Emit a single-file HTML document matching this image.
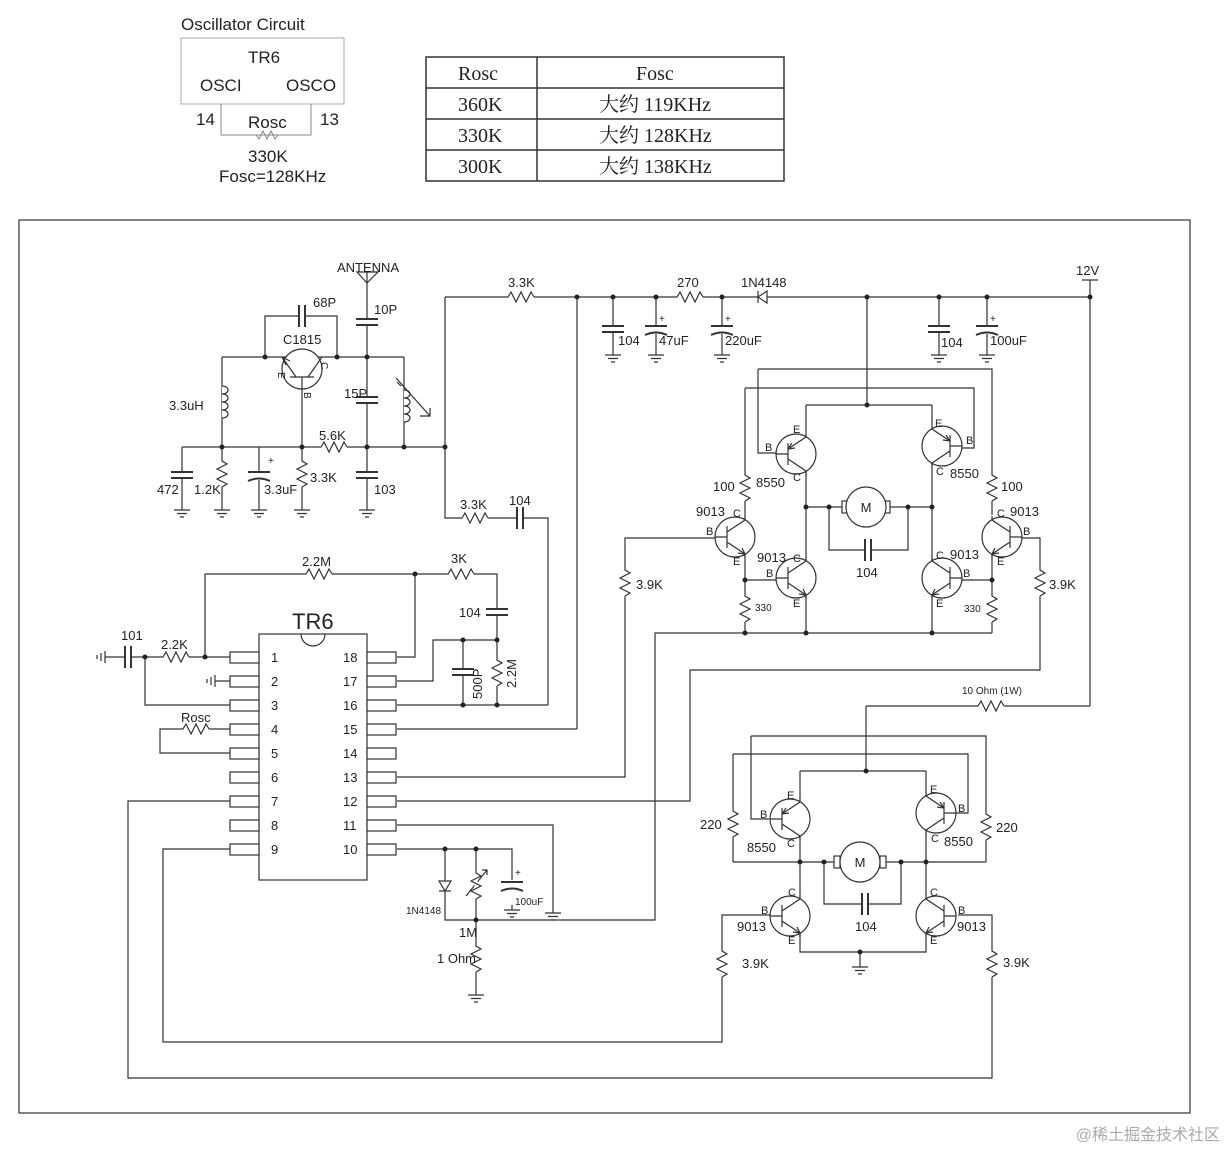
<!DOCTYPE html>
<html><head><meta charset="utf-8"><style>
html,body{margin:0;padding:0;background:#fff;}
svg{display:block;}
text{font-family:"Liberation Sans","Noto Sans CJK SC",sans-serif;fill:#222;}
.s{font-family:"Liberation Serif","Noto Serif CJK SC",serif;}
</style></head><body>
<svg width="1226" height="1151" viewBox="0 0 1226 1151" xmlns="http://www.w3.org/2000/svg">
<defs>
<g id="rv"><rect x="-1.5" y="-14" width="3" height="28" fill="#fff"/><path d="M0,-14 L0,-12 L5,-9 L-5,-4 L5,1 L-5,6 L5,11 L0,14" fill="none" stroke="#333" stroke-width="1.2"/></g>
<g id="rh"><rect x="-14" y="-1.5" width="28" height="3" fill="#fff"/><path d="M-14,0 L-12,0 L-9,-5 L-4,5 L1,-5 L6,5 L11,-5 L14,0" fill="none" stroke="#333" stroke-width="1.2"/></g>
<g id="cv"><rect x="-11" y="-3" width="22" height="6" fill="#fff"/><path d="M-11,-3 H11 M-11,3 H11" stroke="#333" stroke-width="2"/></g>
<g id="ce"><rect x="-11" y="-4" width="22" height="9" fill="#fff"/><path d="M-11,-3 H11" stroke="#333" stroke-width="2"/><path d="M-11,6 Q0,1 11,6" fill="none" stroke="#333" stroke-width="2"/></g>
<g id="ch"><rect x="-3" y="-11" width="6" height="22" fill="#fff"/><path d="M-3,-11 V11 M3,-11 V11" stroke="#333" stroke-width="2"/></g>
<g id="gnd"><path d="M0,0 V5 M-8,5 H8 M-5,8.5 H5 M-2,12 H2" stroke="#333" stroke-width="1.2" fill="none"/></g>
<g id="npn"><circle r="20" fill="#fff" stroke="#333" stroke-width="1.2"/><path d="M-20,0 H-8 M-8,-11 V11 M-8,-5 L10,-17 V-21 M-8,5 L10,17 V21" stroke="#333" stroke-width="1.2" fill="none"/><path d="M10,17 L3,16 M10,17 L7,11" stroke="#333" stroke-width="1.2"/></g>
<g id="pnp"><circle r="20" fill="#fff" stroke="#333" stroke-width="1.2"/><path d="M-20,0 H-8 M-8,-11 V11 M-8,-5 L10,-17 V-21 M-8,5 L10,17 V21" stroke="#333" stroke-width="1.2" fill="none"/><path d="M-8,5 L-1,6 M-8,5 L-4,11" stroke="#333" stroke-width="1.2"/></g>
</defs>

<!-- Top-left oscillator box -->
<text x="181" y="30" font-size="17">Oscillator Circuit</text>
<rect x="181" y="38" width="163" height="66" fill="none" stroke="#aaa"/>
<text x="248" y="63" font-size="17">TR6</text>
<text x="200" y="91" font-size="17">OSCI</text>
<text x="286" y="91" font-size="17">OSCO</text>
<path d="M221,104 V135 H311 V104" fill="none" stroke="#888"/>
<path d="M256,135 L259,139 L263,131 L267,139 L271,131 L275,139 L278,135" fill="none" stroke="#888"/>
<text x="196" y="125" font-size="17">14</text>
<text x="320" y="125" font-size="17">13</text>
<text x="248" y="128" font-size="17">Rosc</text>
<text x="248" y="162" font-size="17">330K</text>
<text x="219" y="182" font-size="17">Fosc=128KHz</text>

<!-- Table -->
<rect x="426" y="57" width="358" height="124" fill="none" stroke="#333" stroke-width="1.5"/>
<path d="M537,57 V181 M426,88 H784 M426,119 H784 M426,150 H784" stroke="#333" stroke-width="1.5"/>
<g class="s" font-size="20">
<text x="458" y="80" class="s">Rosc</text><text x="636" y="80" class="s">Fosc</text>
<text x="458" y="111" class="s">360K</text><text x="599" y="111" class="s">大约 119KHz</text>
<text x="458" y="142" class="s">330K</text><text x="599" y="142" class="s">大约 128KHz</text>
<text x="458" y="173" class="s">300K</text><text x="599" y="173" class="s">大约 138KHz</text>
</g>

<!-- Frame -->
<rect x="19" y="220" width="1171" height="893" fill="none" stroke="#333" stroke-width="1.2"/>

<g stroke="#333" stroke-width="1.2" fill="none">
<path d="M367,283 V357 M222,357 H404 M265,357 V316 H337 V357 M302,389 V447 M222,357 V447 M182,447 H445 M182,447 V505 M222,447 V505 M259,447 V505 M302,447 V505 M367,357 V505 M404,357 V447"/>
<path d="M445,297 V518 H548 V705 M445,297 H1090 M577,297 V729"/>
<path d="M357,272 H378 L367,283 Z M367,272 V283"/>
<path d="M222,386 c8,0 8,8 0,8 c8,0 8,8 0,8 c8,0 8,8 0,8 c8,0 8,8 0,8" fill="#fff"/>
<path d="M404,390 c8,0 8,8 0,8 c8,0 8,8 0,8 c8,0 8,8 0,8 c8,0 8,8 0,8" fill="#fff"/>
<path d="M396,378 L430,416 M420,416 L430,416 L430,408 M401,386 L397,382"/>
<path d="M613,297 V350 M656,297 V350 M722,297 V350 M939,297 V350 M987,297 V350 M867,297 V405 M1090,280 V706"/>
<path d="M1082,280 H1098"/>
<path d="M758,291 V303 M767,291 V303 L758,297 Z" fill="#fff"/>
<rect x="259" y="634" width="108" height="246" fill="#fff"/>
<path d="M301,634 A12,12 0 0 0 325,634"/>
</g>
<g stroke="#333" stroke-width="1.2" fill="#fff">
<rect x="230" y="652" width="29" height="11"/><rect x="230" y="676" width="29" height="11"/><rect x="230" y="700" width="29" height="11"/>
<rect x="230" y="724" width="29" height="11"/><rect x="230" y="748" width="29" height="11"/><rect x="230" y="772" width="29" height="11"/>
<rect x="230" y="796" width="29" height="11"/><rect x="230" y="820" width="29" height="11"/><rect x="230" y="844" width="29" height="11"/>
<rect x="367" y="652" width="29" height="11"/><rect x="367" y="676" width="29" height="11"/><rect x="367" y="700" width="29" height="11"/>
<rect x="367" y="724" width="29" height="11"/><rect x="367" y="748" width="29" height="11"/><rect x="367" y="772" width="29" height="11"/>
<rect x="367" y="796" width="29" height="11"/><rect x="367" y="820" width="29" height="11"/><rect x="367" y="844" width="29" height="11"/>
</g>
<g font-size="13">
<text x="271" y="662">1</text><text x="271" y="686">2</text><text x="271" y="710">3</text><text x="271" y="734">4</text><text x="271" y="758">5</text><text x="271" y="782">6</text><text x="271" y="806">7</text><text x="271" y="830">8</text><text x="271" y="854">9</text>
<text x="343" y="662">18</text><text x="343" y="686">17</text><text x="343" y="710">16</text><text x="343" y="734">15</text><text x="343" y="758">14</text><text x="343" y="782">13</text><text x="343" y="806">12</text><text x="343" y="830">11</text><text x="343" y="854">10</text>
</g>
<text x="292" y="629" font-size="22">TR6</text>

<g stroke="#333" stroke-width="1.2" fill="none">
<path d="M105,657 H230 M205,657 V574 H497 V640 M415,574 V657 H397 M145,657 V705 H230 M215,681 H230"/>
<path d="M230,729 H160 V753 H230"/>
<path d="M397,681 H433 V640 H497 M463,640 V705 M497,640 V705 M397,705 H548 M397,729 H577"/>
<path d="M397,777 H625 V538 H717 M397,801 H690 V670 H1040 V538 H1020"/>
<path d="M397,825 H553 V908 M397,849 H512 V880 M445,849 V920 H655 V633 H992 M476,849 V990"/>
<path d="M230,801 H128 V1078 H992 V915 H958 M230,849 H163 V1042 H722 V915 H771"/>
<path d="M439,881 H451 L445,891 Z M439,891 H451" fill="#fff"/>
<path d="M466,896 L487,870 M482,870 H487 V875"/>
<path d="M105,651 V663 M101,653 V661 M97,655 V659"/>
<path d="M215,675 V687 M211,677 V685 M207,679 V683"/>

<path d="M806,405 H932 M806,405 V433 M932,405 V425"/>
<path d="M758,369 H992 V515 M758,369 V453 H776 M745,388 H974 V448 H962 M745,388 V517"/>
<path d="M806,472 V560 M932,464 V560 M806,507 H932 M829,507 V550 H908 V507"/>
<path d="M745,555 V633 M745,580 H777 M806,596 V633 M932,596 V633 M992,555 V633 M992,580 H957"/>
<path d="M866,706 V771 M800,771 H926 M800,771 V799 M926,771 V793"/>
<path d="M751,736 H986 V862 M751,736 V819 H769 M733,754 H968 V813 H956 M733,754 V862"/>
<path d="M800,838 V896 M926,832 V896 M733,862 H986 M824,862 V904 H901 V862"/>
<path d="M800,934 V952 H926 V934 M860,952 V962"/>
<path d="M866,706 H1090"/>
</g>

<use href="#cv" x="367" y="322"/>
<use href="#cv" x="367" y="400"/>
<use href="#cv" x="367" y="475"/>
<use href="#cv" x="182" y="475"/>
<use href="#ce" x="259" y="475"/>
<use href="#ch" x="302" y="316"/>
<use href="#rv" x="222" y="473"/>
<use href="#rv" x="302" y="473"/>
<use href="#rh" x="333" y="447"/>
<use href="#gnd" x="182" y="505"/><use href="#gnd" x="222" y="505"/><use href="#gnd" x="259" y="505"/><use href="#gnd" x="302" y="505"/><use href="#gnd" x="367" y="505"/>
<g transform="translate(302,369)"><circle r="20" fill="#fff" stroke="#333" stroke-width="1.2"/><path d="M-12,8 H12 M0,8 V20 M-6,8 L-20,-12 M6,8 L20,-12 M-20,-12 L-16,-4 M-20,-12 L-12,-8" stroke="#333" stroke-width="1.2" fill="none"/></g>

<use href="#rh" x="520" y="297"/>
<use href="#rh" x="689" y="297"/>
<use href="#cv" x="613" y="329"/><use href="#ce" x="656" y="329"/><use href="#ce" x="722" y="329"/>
<use href="#cv" x="939" y="329"/><use href="#ce" x="987" y="329"/>
<use href="#gnd" x="613" y="350"/><use href="#gnd" x="656" y="350"/><use href="#gnd" x="722" y="350"/><use href="#gnd" x="939" y="350"/><use href="#gnd" x="987" y="350"/>
<use href="#rh" x="474" y="518"/>
<use href="#ch" x="520" y="518"/>

<use href="#ch" x="128" y="657"/>
<use href="#rh" x="175" y="657"/>
<use href="#rh" x="318" y="574"/>
<use href="#rh" x="460" y="574"/>
<use href="#cv" x="497" y="612"/>
<use href="#cv" x="463" y="672"/>
<use href="#rv" x="497" y="672"/>
<use href="#rh" x="195" y="729"/>
<use href="#rv" x="625" y="582"/>
<use href="#rv" x="1040" y="582"/>
<use href="#rv" x="476" y="885"/>
<use href="#ce" x="512" y="885"/>
<use href="#gnd" x="512" y="905"/><use href="#gnd" x="553" y="908"/>
<use href="#rv" x="476" y="958"/>
<use href="#gnd" x="476" y="990"/>

<use href="#rv" x="745" y="487"/>
<use href="#rv" x="992" y="487"/>
<use href="#rv" x="745" y="608"/>
<use href="#rv" x="992" y="608"/>
<g transform="translate(796,454) scale(1,-1)"><use href="#pnp"/></g>
<g transform="translate(942,446) scale(-1,-1)"><use href="#pnp"/></g>
<g transform="translate(735,537)"><use href="#npn"/></g>
<g transform="translate(796,578)"><use href="#npn"/></g>
<g transform="translate(942,578) scale(-1,1)"><use href="#npn"/></g>
<g transform="translate(1002,537) scale(-1,1)"><use href="#npn"/></g>
<g stroke="#333" stroke-width="1.2"><rect x="842" y="501" width="6" height="12" fill="#fff"/><rect x="884" y="501" width="6" height="12" fill="#fff"/><circle cx="866" cy="507" r="20" fill="#fff"/></g>
<text x="866" y="512" font-size="13" text-anchor="middle">M</text>
<use href="#ch" x="868" y="550"/>

<use href="#rv" x="733" y="823"/>
<use href="#rv" x="986" y="826"/>
<use href="#rv" x="722" y="963"/>
<use href="#rv" x="992" y="963"/>
<use href="#rh" x="990" y="706"/>
<g transform="translate(790,819) scale(1,-1)"><use href="#pnp"/></g>
<g transform="translate(936,813) scale(-1,-1)"><use href="#pnp"/></g>
<g transform="translate(790,916)"><use href="#npn"/></g>
<g transform="translate(936,916) scale(-1,1)"><use href="#npn"/></g>
<g stroke="#333" stroke-width="1.2"><rect x="834" y="856" width="6" height="12" fill="#fff"/><rect x="880" y="856" width="6" height="12" fill="#fff"/><circle cx="860" cy="862" r="20" fill="#fff"/></g>
<text x="860" y="867" font-size="13" text-anchor="middle">M</text>
<use href="#ch" x="865" y="904"/>
<use href="#gnd" x="860" y="962"/>

<g fill="#222">
<circle cx="265" cy="357" r="2.5"/><circle cx="337" cy="357" r="2.5"/><circle cx="367" cy="357" r="2.5"/>
<circle cx="222" cy="447" r="2.5"/><circle cx="302" cy="447" r="2.5"/><circle cx="367" cy="447" r="2.5"/><circle cx="404" cy="447" r="2.5"/><circle cx="445" cy="447" r="2.5"/>
<circle cx="577" cy="297" r="2.5"/><circle cx="613" cy="297" r="2.5"/><circle cx="656" cy="297" r="2.5"/><circle cx="722" cy="297" r="2.5"/><circle cx="867" cy="297" r="2.5"/><circle cx="939" cy="297" r="2.5"/><circle cx="987" cy="297" r="2.5"/><circle cx="1090" cy="297" r="2.5"/>
<circle cx="145" cy="657" r="2.5"/><circle cx="205" cy="657" r="2.5"/><circle cx="415" cy="574" r="2.5"/>
<circle cx="463" cy="640" r="2.5"/><circle cx="497" cy="640" r="2.5"/><circle cx="463" cy="705" r="2.5"/><circle cx="497" cy="705" r="2.5"/>
<circle cx="445" cy="849" r="2.5"/><circle cx="476" cy="849" r="2.5"/><circle cx="476" cy="920" r="2.5"/>
<circle cx="867" cy="405" r="2.5"/><circle cx="806" cy="507" r="2.5"/><circle cx="829" cy="507" r="2.5"/><circle cx="908" cy="507" r="2.5"/><circle cx="932" cy="507" r="2.5"/>
<circle cx="745" cy="580" r="2.5"/><circle cx="992" cy="580" r="2.5"/><circle cx="745" cy="633" r="2.5"/><circle cx="806" cy="633" r="2.5"/><circle cx="932" cy="633" r="2.5"/>
<circle cx="866" cy="771" r="2.5"/><circle cx="800" cy="862" r="2.5"/><circle cx="824" cy="862" r="2.5"/><circle cx="901" cy="862" r="2.5"/><circle cx="926" cy="862" r="2.5"/><circle cx="860" cy="952" r="2.5"/>
</g>

<g font-size="13">
<text x="337" y="272">ANTENNA</text>
<text x="313" y="307">68P</text>
<text x="374" y="314">10P</text>
<text x="283" y="344">C1815</text>
<text x="169" y="410">3.3uH</text>
<text x="344" y="398">15P</text>
<text x="319" y="440">5.6K</text>
<text x="157" y="494">472</text>
<text x="194" y="494">1.2K</text>
<text x="264" y="494">3.3uF</text>
<text x="310" y="482">3.3K</text>
<text x="374" y="494">103</text>
<text x="508" y="287">3.3K</text>
<text x="677" y="287">270</text>
<text x="741" y="287">1N4148</text>
<text x="1076" y="275">12V</text>
<text x="618" y="345">104</text>
<text x="659" y="345">47uF</text>
<text x="725" y="345">220uF</text>
<text x="941" y="347">104</text>
<text x="990" y="345">100uF</text>
<text x="460" y="509">3.3K</text>
<text x="509" y="505">104</text>
<text x="302" y="566">2.2M</text>
<text x="451" y="563">3K</text>
<text x="459" y="617">104</text>
<text x="121" y="640">101</text>
<text x="161" y="649">2.2K</text>
<text x="181" y="722">Rosc</text>
<text x="636" y="589">3.9K</text>
<text x="1049" y="589">3.9K</text>
<text x="459" y="937">1M</text>
<text x="437" y="963">1 Ohm</text>
<text x="742" y="968">3.9K</text>
<text x="1003" y="967">3.9K</text>
<text x="713" y="491">100</text>
<text x="756" y="487">8550</text>
<text x="950" y="478">8550</text>
<text x="1001" y="491">100</text>
<text x="696" y="516">9013</text>
<text x="757" y="562">9013</text>
<text x="950" y="559">9013</text>
<text x="1010" y="516">9013</text>
<text x="856" y="577">104</text>
<text x="700" y="829">220</text>
<text x="996" y="832">220</text>
<text x="747" y="852">8550</text>
<text x="944" y="846">8550</text>
<text x="737" y="931">9013</text>
<text x="957" y="931">9013</text>
<text x="855" y="931">104</text>
</g>
<text x="1220" y="1140" font-size="16" text-anchor="end" style="fill:#aaa">@稀土掘金技术社区</text>
<g font-size="10">
<text x="278" y="372" transform="rotate(90 278 372)">E</text>
<text x="321" y="362" transform="rotate(90 321 362)">C</text>
<text x="304" y="392" transform="rotate(90 304 392)">B</text>
<text x="471" y="672" transform="rotate(-90 490 680)" font-size="13">500P</text>
<text x="516" y="688" transform="rotate(-90 516 688)" font-size="13">2.2M</text>
<text x="406" y="914">1N4148</text>
<text x="515" y="905">100uF</text>
<text x="755" y="611">330</text>
<text x="964" y="612">330</text>
<text x="962" y="694">10 Ohm (1W)</text>
<text x="515" y="876">+</text><text x="268" y="464">+</text><text x="659" y="322">+</text><text x="725" y="322">+</text><text x="990" y="322">+</text>
</g>
<g font-size="11">
<text x="765" y="451">B</text><text x="793" y="433">E</text><text x="793" y="481">C</text>
<text x="935" y="427">E</text><text x="966" y="444">B</text><text x="936" y="475">C</text>
<text x="706" y="535">B</text><text x="733" y="517">C</text><text x="733" y="565">E</text>
<text x="766" y="577">B</text><text x="793" y="562">C</text><text x="793" y="607">E</text>
<text x="936" y="559">C</text><text x="963" y="577">B</text><text x="936" y="607">E</text>
<text x="997" y="517">C</text><text x="1023" y="535">B</text><text x="997" y="565">E</text>
<text x="760" y="818">B</text><text x="787" y="799">E</text><text x="787" y="847">C</text>
<text x="930" y="793">E</text><text x="958" y="812">B</text><text x="931" y="842">C</text>
<text x="761" y="914">B</text><text x="788" y="896">C</text><text x="788" y="944">E</text>
<text x="930" y="896">C</text><text x="958" y="914">B</text><text x="930" y="944">E</text>
</g>
</svg>
</body></html>
